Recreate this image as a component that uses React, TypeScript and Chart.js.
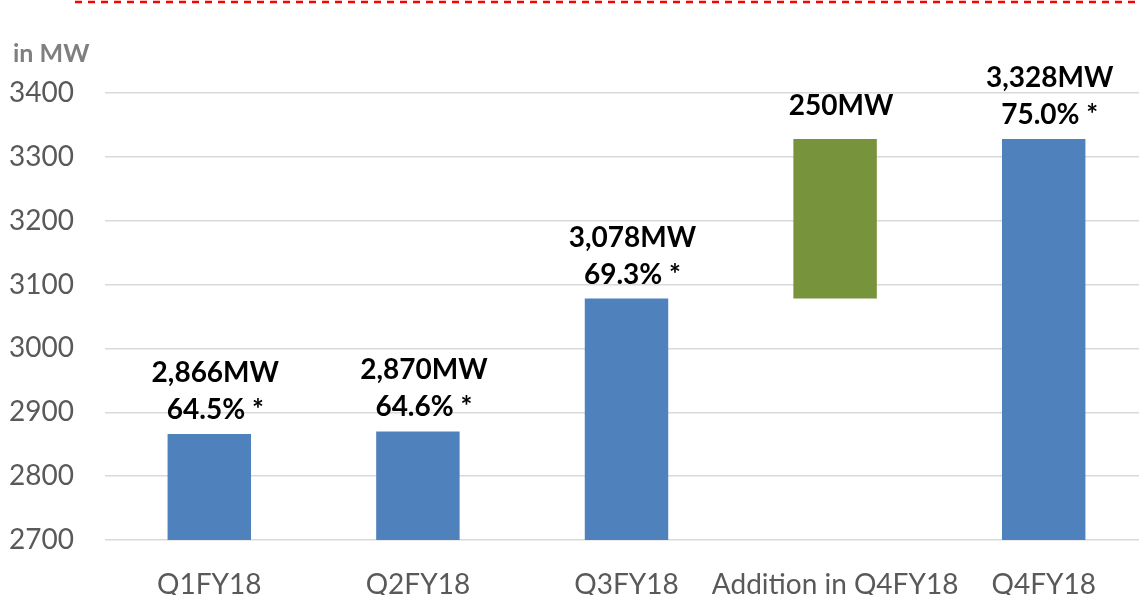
import React, { useEffect, useRef } from "react";
import { Chart, registerables } from "chart.js";

Chart.register(...registerables);

const categories = ["Q1FY18", "Q2FY18", "Q3FY18", "Addition in Q4FY18", "Q4FY18"];
const barStarts = [2700, 2700, 2700, 3078, 2700];
const barEnds = [2866, 2870, 3078, 3328, 3328];
const valueLabels = ["2,866MW", "2,870MW", "3,078MW", "250MW", "3,328MW"];
const pctLabels = ["64.5% *", "64.6% *", "69.3% *", "", "75.0% *"];
const barColors = ["#4f81bd", "#4f81bd", "#4f81bd", "#77933c", "#4f81bd"];
const yMin = 2700;
const yMax = 3400;
const yStep = 100;
const unitLabel = "in MW";

const FONT = "Lato, 'Open Sans', sans-serif";

const overlayPlugin = {
  id: "overlay",
  beforeDraw(chart: any) {
    const ctx = chart.ctx;
    ctx.save();
    ctx.strokeStyle = "#ff0000";
    ctx.lineWidth = 2.5;
    ctx.setLineDash([7, 6]);
    ctx.beginPath();
    ctx.moveTo(75, 2);
    ctx.lineTo(chart.width, 2);
    ctx.stroke();
    ctx.setLineDash([]);
    ctx.fillStyle = "#7f7f7f";
    ctx.font = `bold 25px ${FONT}`;
    ctx.textAlign = "left";
    ctx.textBaseline = "alphabetic";
    ctx.fillText(unitLabel, 13, 62);
    ctx.restore();
  },
  afterDatasetsDraw(chart: any) {
    const ctx = chart.ctx;
    const meta = chart.getDatasetMeta(0);
    ctx.save();
    ctx.fillStyle = "#000000";
    ctx.font = `bold 28px ${FONT}`;
    ctx.textAlign = "center";
    ctx.textBaseline = "alphabetic";
    meta.data.forEach((el: any, i: number) => {
      const top = Math.min(el.y, el.base);
      const x = el.x + 6;
      if (pctLabels[i]) {
        ctx.fillText(pctLabels[i], x, top - 15);
        ctx.fillText(valueLabels[i], x, top - 15 - 37);
      } else {
        ctx.fillText(valueLabels[i], x, top - 24);
      }
    });
    ctx.restore();
  },
};

export default function App() {
  const ref = useRef<HTMLCanvasElement | null>(null);
  useEffect(() => {
    if (!ref.current) return;
    const data = categories.map((_, i) => [barStarts[i], barEnds[i]]);
    const chart = new Chart(ref.current, {
      type: "bar",
      data: {
        labels: categories,
        datasets: [
          {
            data: data as any,
            backgroundColor: barColors,
            borderWidth: 0,
            barPercentage: 0.4,
            categoryPercentage: 1,
          },
        ],
      },
      options: {
        animation: false,
        responsive: false,
        devicePixelRatio: 1,
        layout: { padding: { top: 93, right: 2, left: 0, bottom: 0 } },
        plugins: {
          legend: { display: false },
          tooltip: { enabled: false },
        },
        scales: {
          x: {
            grid: { display: false },
            border: { display: false },
            ticks: {
              color: "#595959",
              font: { family: FONT, size: 28 },
              padding: 20,
              maxRotation: 0,
              autoSkip: false,
            },
            afterFit: (s: any) => {
              s.height = 55;
            },
          },
          y: {
            min: yMin,
            max: yMax,
            grid: { color: "#d9d9d9", lineWidth: 1.5, drawTicks: false },
            border: { display: false },
            ticks: {
              stepSize: yStep,
              color: "#595959",
              font: { family: FONT, size: 28 },
              padding: 31,
              callback: (v: any) => String(v),
            },
            afterFit: (s: any) => {
              s.width = 105;
            },
          },
        },
      },
      plugins: [overlayPlugin],
    });
    return () => chart.destroy();
  }, []);
  return (
    <div
      style={{
        position: "fixed",
        left: 0,
        top: 0,
        width: 1139,
        height: 595,
        overflow: "hidden",
        background: "#ffffff",
      }}
    >
      <canvas ref={ref} width={1150} height={595} style={{ width: 1150, height: 595 }} />
    </div>
  );
}
